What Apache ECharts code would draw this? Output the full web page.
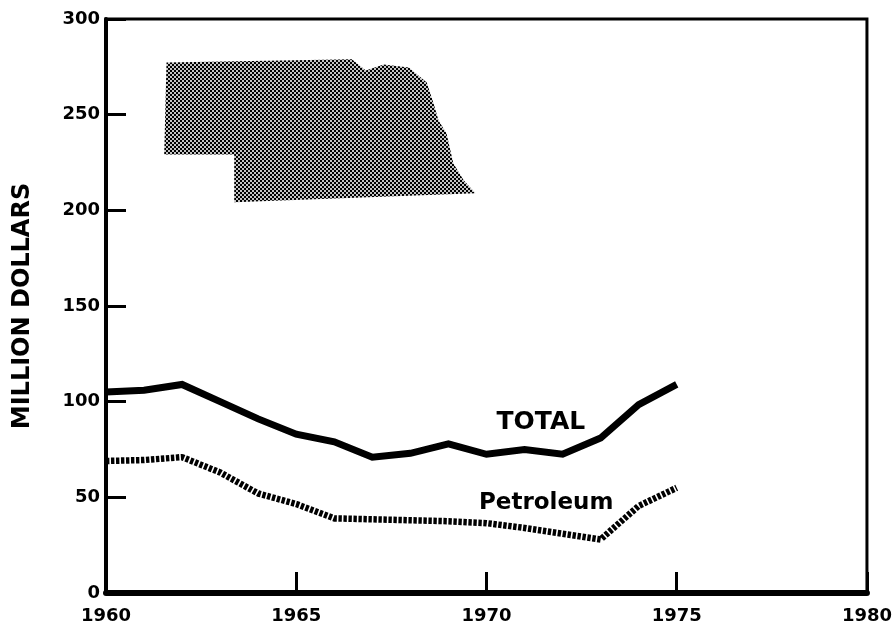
<!DOCTYPE html>
<html>
<head>
<meta charset="utf-8">
<style>html,body{margin:0;padding:0;background:#fff}#c{width:895px;height:627px}</style>
<script src="https://cdn.jsdelivr.net/npm/echarts@6/dist/echarts.min.js"></script>
</head>
<body>
<div id="c"></div>
<script>
const years = [1960,1961,1962,1963,1964,1965,1966,1967,1968,1969,1970,1971,1972,1973,1974,1975];
const total = [105,106,109,100,91,83,79,71,73,78,72.5,75,72.5,81,98.5,109];
const petroleum = [69,69.5,71,63,52,46.5,39,38.5,38,37.5,36.5,34,31,28,45.5,55];
const nebraskaOutline = [
  [1961.59,277.3],[1966.46,278.9],[1966.83,273.1],[1967.30,276.2],[1967.96,274.7],
  [1968.43,266.8],[1968.61,255.9],[1968.74,247],[1968.95,240.2],[1969.13,224.5],
  [1969.40,215.7],[1969.71,208.9],[1963.37,204.2],[1963.37,229.2],[1961.53,229.2]
];
const seriesLabels = [
  {value:[1971.43,89], text:'TOTAL', size:25},
  {value:[1971.57,47], text:'Petroleum', size:23}
];
const FONT = '"DejaVu Sans"';

const pat = document.createElement('canvas');
pat.width = 4; pat.height = 4;
const g = pat.getContext('2d');
g.fillStyle = '#c4c4c4'; g.fillRect(0,0,4,4);
g.fillStyle = '#000'; g.fillRect(0,0,2,2); g.fillRect(2,2,2,2);

const chart = echarts.init(document.getElementById('c'), null, {renderer:'canvas'});
chart.setOption({
  backgroundColor:'#fff',
  animation:false,
  grid:{left:106,right:25,top:19,bottom:34,show:true,borderColor:'#000',borderWidth:3,backgroundColor:'transparent'},
  xAxis:{
    type:'value',min:1960,max:1980,interval:5,
    splitLine:{show:false},
    axisLine:{show:true,onZero:false,lineStyle:{color:'#000',width:6}},
    axisTick:{show:true,inside:true,length:21,lineStyle:{color:'#000',width:3}},
    axisLabel:{color:'#000',fontFamily:FONT,fontWeight:'bold',fontSize:18,margin:14,
      showMinLabel:true,showMaxLabel:true,formatter:v=>String(v)}
  },
  yAxis:{
    type:'value',min:0,max:300,interval:50,
    name:'MILLION DOLLARS',nameLocation:'middle',nameGap:71,
    nameTextStyle:{color:'#000',fontFamily:FONT,fontWeight:'bold',fontSize:24},
    splitLine:{show:false},
    axisLine:{show:true,onZero:false,lineStyle:{color:'#000',width:4}},
    axisTick:{show:true,inside:true,length:20,lineStyle:{color:'#000',width:3}},
    axisLabel:{color:'#000',fontFamily:FONT,fontWeight:'bold',fontSize:18,margin:6}
  },
  series:[
    {name:'Nebraska',type:'custom',silent:true,data:[0],
      renderItem:(p,api)=>({
        type:'polygon',
        shape:{points:nebraskaOutline.map(c=>api.coord(c))},
        style:{fill:{image:pat,repeat:'repeat'},stroke:null}
      })},
    {name:'TOTAL',type:'line',symbol:'none',smooth:false,
      data:years.map((y,i)=>[y,total[i]]),
      lineStyle:{color:'#000',width:7,join:'miter'}},
    {name:'Petroleum',type:'line',symbol:'none',smooth:false,
      data:years.map((y,i)=>[y,petroleum[i]]),
      lineStyle:{color:'#000',width:6.5,type:[3.4,1.6]}},
    {name:'labels',type:'scatter',symbolSize:0,silent:true,itemStyle:{opacity:1},
      data:seriesLabels.map(d=>({value:d.value,
        label:{show:true,position:'inside',formatter:d.text,color:'#000',opacity:1,textBorderWidth:0,
          fontFamily:FONT,fontWeight:'bold',fontSize:d.size}}))}
  ]
});
</script>
</body>
</html>
